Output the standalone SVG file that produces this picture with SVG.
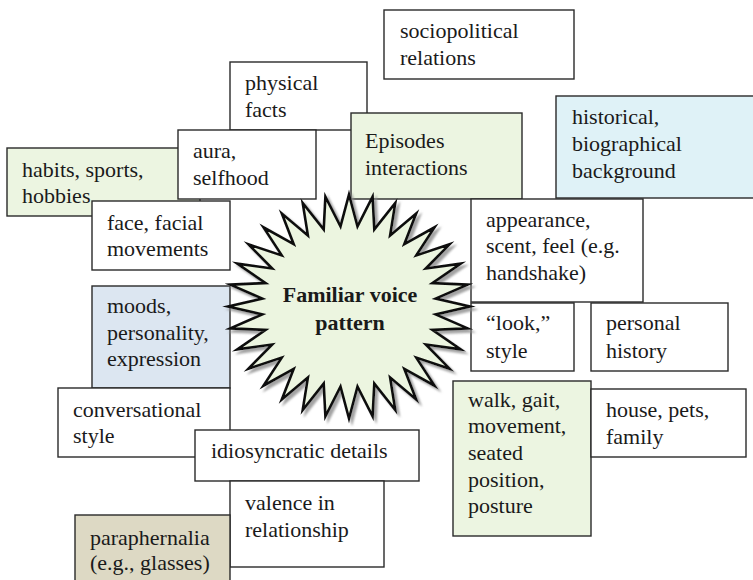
<svg xmlns="http://www.w3.org/2000/svg" width="753" height="580" viewBox="0 0 753 580" font-family="'Liberation Serif', 'Times New Roman', serif">
<style>
.b{stroke:#2a2a2a;stroke-width:1.4;fill:#ffffff}
.g{fill:#ecf5e1}
.bl{fill:#dce6f1}
.cy{fill:#dff2f7}
.tn{fill:#ddd9c4}
text{font-family:'Liberation Serif', 'Times New Roman', serif;font-size:22px;fill:#1a1a1a}
.c{font-weight:bold;text-anchor:middle}
</style>
<defs>
<filter id="sh" x="-10%" y="-10%" width="125%" height="125%">
<feGaussianBlur in="SourceAlpha" stdDeviation="1.2" result="bl"/>
<feOffset in="bl" dx="2.5" dy="2.5" result="of"/>
<feFlood flood-color="#8c8c8c" flood-opacity="0.8"/>
<feComposite in2="of" operator="in" result="s"/>
<feMerge><feMergeNode in="s"/><feMergeNode in="SourceGraphic"/></feMerge>
</filter>
</defs>
<rect width="753" height="580" fill="#ffffff"/>
<g id="sociopolitical"><rect class="b" x="384" y="10" width="190" height="69"/><text x="400" y="38">sociopolitical</text><text x="400" y="65">relations</text></g>
<g id="physical"><rect class="b" x="230" y="62" width="137" height="68"/><text x="245" y="90">physical</text><text x="245" y="117">facts</text></g>
<g id="habits"><rect class="b g" x="7" y="148" width="193" height="68"/><text x="22" y="177">habits, sports,</text><text x="22" y="203">hobbies</text></g>
<g id="aura"><rect class="b" x="178" y="130" width="138" height="69"/><text x="193" y="158">aura,</text><text x="193" y="185">selfhood</text></g>
<g id="episodes"><rect class="b g" x="351" y="113" width="171" height="86"/><text x="365" y="148">Episodes</text><text x="365" y="175">interactions</text></g>
<g id="historical"><rect class="b cy" x="556" y="96" width="202" height="102"/><text x="572" y="124">historical,</text><text x="572" y="151">biographical</text><text x="572" y="178">background</text></g>
<g id="face"><rect class="b" x="92" y="201" width="138" height="69"/><text x="107" y="230">face, facial</text><text x="107" y="256">movements</text></g>
<g id="moods"><rect class="b bl" x="92" y="286" width="138" height="102"/><text x="107" y="313">moods,</text><text x="107" y="340">personality,</text><text x="107" y="366">expression</text></g>
<g id="conversational"><rect class="b" x="58" y="388" width="172" height="69"/><text x="73" y="417">conversational</text><text x="73" y="443">style</text></g>
<g id="idiosyncratic"><rect class="b" x="195" y="430" width="224" height="51"/><text x="211" y="458">idiosyncratic details</text></g>
<g id="valence"><rect class="b" x="230" y="481" width="154" height="86"/><text x="245" y="510">valence in</text><text x="245" y="537">relationship</text></g>
<g id="paraphernalia"><rect class="b tn" x="75" y="515" width="155" height="70"/><text x="90" y="545">paraphernalia</text><text x="90" y="570">(e.g., glasses)</text></g>
<g id="appearance"><rect class="b" x="471" y="199" width="172" height="103"/><text x="486" y="227">appearance,</text><text x="486" y="253">scent, feel (e.g.</text><text x="486" y="280">handshake)</text></g>
<g id="look"><rect class="b" x="471" y="303" width="103" height="68"/><text x="486" y="330">&#8220;look,&#8221;</text><text x="486" y="358">style</text></g>
<g id="personal"><rect class="b" x="591" y="303" width="137" height="68"/><text x="606" y="330">personal</text><text x="606" y="358">history</text></g>
<g id="walk"><rect class="b g" x="453" y="381" width="138" height="155"/><text x="468" y="407">walk, gait,</text><text x="468" y="433">movement,</text><text x="468" y="460">seated</text><text x="468" y="487">position,</text><text x="468" y="513">posture</text></g>
<g id="house"><rect class="b" x="591" y="389" width="155" height="68"/><text x="606" y="417">house, pets,</text><text x="606" y="444">family</text></g>
<g id="connectors"></g>
<g id="star">
<path transform="translate(349,306.5)" filter="url(#sh)" fill="#ecf5e0" stroke="#111111" stroke-width="2.6" stroke-linejoin="miter" stroke-miterlimit="10" d="M0,-112 L8.5,-80.2 L23.6,-109.9 L25.3,-77.1 L46.3,-103.5 L41.1,-71.1 L67.2,-93.1 L55.3,-62.3 L85.6,-79.2 L67.3,-51.1 L100.6,-62.2 L76.8,-38 L111.8,-42.9 L83.4,-23.4 L118.7,-21.9 L86.7,-7.9 L121,0 L86.7,7.9 L118.7,21.9 L83.4,23.4 L111.8,42.9 L76.8,38 L100.6,62.2 L67.3,51.1 L85.6,79.2 L55.3,62.3 L67.2,93.1 L41.1,71.1 L46.3,103.5 L25.3,77.1 L23.6,109.9 L8.5,80.2 L0,112 L-8.5,80.2 L-23.6,109.9 L-25.3,77.1 L-46.3,103.5 L-41.1,71.1 L-67.2,93.1 L-55.3,62.3 L-85.6,79.2 L-67.3,51.1 L-100.6,62.2 L-76.8,38 L-111.8,42.9 L-83.4,23.4 L-118.7,21.9 L-86.7,7.9 L-121,0 L-86.7,-7.9 L-118.7,-21.9 L-83.4,-23.4 L-111.8,-42.9 L-76.8,-38 L-100.6,-62.2 L-67.3,-51.1 L-85.6,-79.2 L-55.3,-62.3 L-67.2,-93.1 L-41.1,-71.1 L-46.3,-103.5 L-25.3,-77.1 L-23.6,-109.9 L-8.5,-80.2 Z"/>
<text class="c" x="350" y="302">Familiar voice</text>
<text class="c" x="350" y="330">pattern</text>
</g>
</svg>
